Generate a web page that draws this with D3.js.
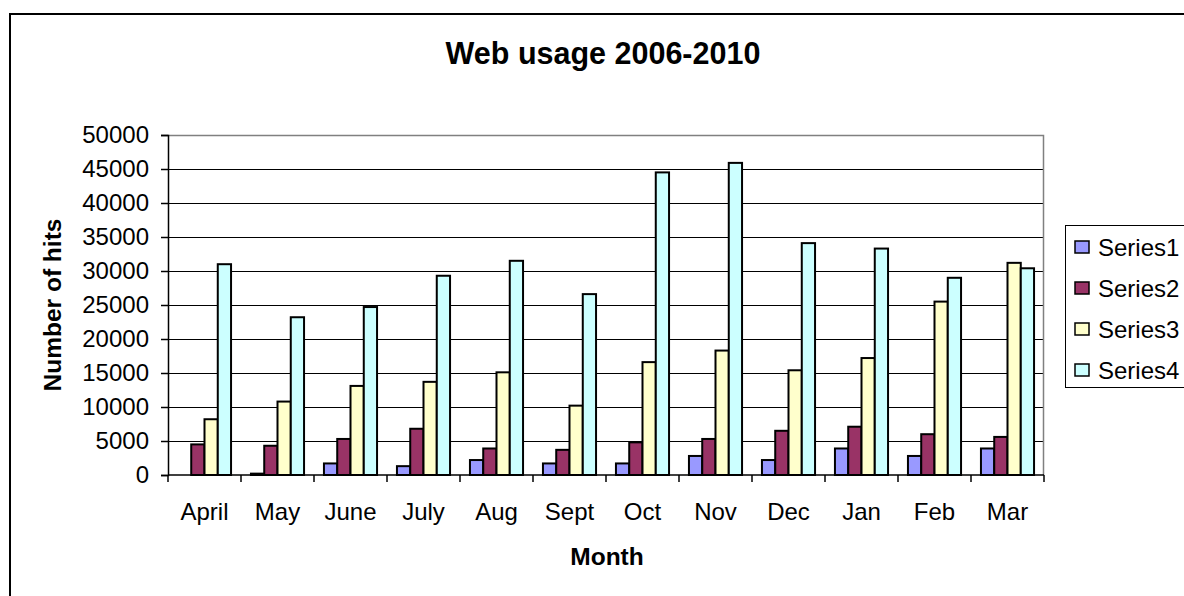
<!DOCTYPE html>
<html>
<head>
<meta charset="utf-8">
<script src="https://cdn.jsdelivr.net/npm/d3@7/dist/d3.min.js"></script>
<style>
  body { margin: 0; background: #fff; }
  svg { display: block; font-family: "Liberation Sans", Arial, sans-serif; }
  .grid line { stroke: #000; stroke-width: 1; shape-rendering: crispEdges; }
  .bar { stroke: #000; stroke-width: 2; }
</style>
</head>
<body>
<svg id="chart" width="1184" height="596"></svg>
<script>
const months = ["April", "May", "June", "July", "Aug", "Sept", "Oct", "Nov", "Dec", "Jan", "Feb", "Mar"];
const seriesNames = ["Series1", "Series2", "Series3", "Series4"];
const series1 = [0, 200, 1700, 1300, 2200, 1700, 1700, 2800, 2200, 3900, 2800, 3900];
const series2 = [4500, 4300, 5300, 6800, 3900, 3700, 4800, 5300, 6500, 7100, 6000, 5600];
const series3 = [8200, 10800, 13100, 13700, 15100, 10200, 16600, 18300, 15400, 17200, 25500, 31200];
const series4 = [31000, 23200, 24700, 29300, 31500, 26600, 44500, 45900, 34100, 33300, 29000, 30400];
const yTicks = [0, 5000, 10000, 15000, 20000, 25000, 30000, 35000, 40000, 45000, 50000];
const colors = ["#9999FF", "#993366", "#FFFFCC", "#CCFFFF"];

const allSeries = [series1, series2, series3, series4];

const margin = {top: 135, right: 140, bottom: 121, left: 168};
const width = 1044 - margin.left;
const height = 475 - margin.top;

const svg = d3.select("#chart");

// outer chart frame (runs off the right and bottom edge)
svg.append("rect")
  .attr("x", 10).attr("y", 14)
  .attr("width", 1300).attr("height", 700)
  .attr("fill", "none")
  .attr("stroke", "#000")
  .attr("stroke-width", 2);

svg.append("text")
  .attr("x", 603).attr("y", 64)
  .attr("text-anchor", "middle")
  .attr("font-size", 30.5)
  .attr("font-weight", "bold")
  .text("Web usage 2006-2010");

const g = svg.append("g")
  .attr("transform", "translate(" + margin.left + "," + margin.top + ")");

const x0 = d3.scaleBand().domain(months).range([0, width]).paddingInner(0).paddingOuter(0);
// gap width 150% -> 0.75 bar each side
const x1 = d3.scaleBand().domain(seriesNames)
  .range([x0.bandwidth() * 0.75 / 5.5, x0.bandwidth() - x0.bandwidth() * 0.75 / 5.5]);
const y = d3.scaleLinear().domain([0, 50000]).range([height, 0]);

// gridlines
g.append("g")
  .attr("class", "grid")
  .selectAll("line")
  .data(yTicks.filter(d => d > 0 && d < 50000))
  .enter().append("line")
    .attr("x1", 0).attr("x2", width)
    .attr("y1", d => Math.round(y(d)) + 0.5)
    .attr("y2", d => Math.round(y(d)) + 0.5);

// plot area border (top + right grey)
g.append("path")
  .attr("d", "M0,0.5H" + (width - 0.5) + "V" + height)
  .attr("fill", "none")
  .attr("stroke", "#808080")
  .attr("stroke-width", 1.5);

// bars
const groups = g.selectAll(".month")
  .data(months)
  .enter().append("g")
    .attr("class", "month")
    .attr("transform", d => "translate(" + x0(d) + ",0)");

groups.selectAll("rect")
  .data((m, i) => allSeries.map((s, k) => ({name: seriesNames[k], value: s[i], k: k})))
  .enter().append("rect")
    .filter(d => d.value > 0)
    .attr("class", "bar")
    .attr("x", d => x1(d.name))
    .attr("width", x1.bandwidth())
    .attr("y", d => y(d.value))
    .attr("height", d => height - y(d.value))
    .attr("fill", d => colors[d.k]);

// y axis
const yAxis = g.append("g")
  .call(d3.axisLeft(y).tickValues(yTicks).tickSize(7).tickPadding(12).tickFormat(d3.format("d")));
yAxis.selectAll("text").attr("font-size", 24).attr("fill", "#000").attr("font-family", "Liberation Sans, Arial, sans-serif");
yAxis.selectAll("line, path").attr("stroke", "#000").attr("stroke-width", 1.5);

// x axis with ticks at category boundaries
const xAxis = g.append("g")
  .attr("transform", "translate(0," + height + ")");
xAxis.append("line")
  .attr("x1", 0).attr("x2", width)
  .attr("stroke", "#000").attr("stroke-width", 1.5);
xAxis.selectAll(".tk")
  .data(months.concat(["end"]))
  .enter().append("line")
    .attr("class", "tk")
    .attr("x1", (d, i) => i * x0.bandwidth())
    .attr("x2", (d, i) => i * x0.bandwidth())
    .attr("y1", 0).attr("y2", 7)
    .attr("stroke", "#000").attr("stroke-width", 1.5);
xAxis.selectAll(".lbl")
  .data(months)
  .enter().append("text")
    .attr("class", "lbl")
    .attr("x", d => x0(d) + x0.bandwidth() / 2)
    .attr("y", 45)
    .attr("text-anchor", "middle")
    .attr("font-size", 24)
    .text(d => d);

// axis titles
svg.append("text")
  .attr("x", 607).attr("y", 565)
  .attr("text-anchor", "middle")
  .attr("font-size", 24.5)
  .attr("font-weight", "bold")
  .text("Month");

svg.append("text")
  .attr("transform", "translate(61,305) rotate(-90)")
  .attr("text-anchor", "middle")
  .attr("font-size", 24.5)
  .attr("font-weight", "bold")
  .text("Number of hits");

// legend
const legend = svg.append("g").attr("transform", "translate(1065,225)");
legend.append("rect")
  .attr("x", 0.5).attr("y", 0.5)
  .attr("width", 200).attr("height", 162)
  .attr("fill", "#fff")
  .attr("stroke", "#000")
  .attr("stroke-width", 1);

const item = legend.selectAll(".item")
  .data(seriesNames)
  .enter().append("g")
    .attr("class", "item")
    .attr("transform", (d, i) => "translate(0," + (22 + i * 41) + ")");
item.append("rect")
  .attr("x", 10).attr("y", -6)
  .attr("width", 14).attr("height", 12)
  .attr("fill", (d, i) => colors[i])
  .attr("stroke", "#000")
  .attr("stroke-width", 1.5);
item.append("text")
  .attr("x", 33).attr("y", 8.5)
  .attr("font-size", 24)
  .text(d => d);
</script>
</body>
</html>
